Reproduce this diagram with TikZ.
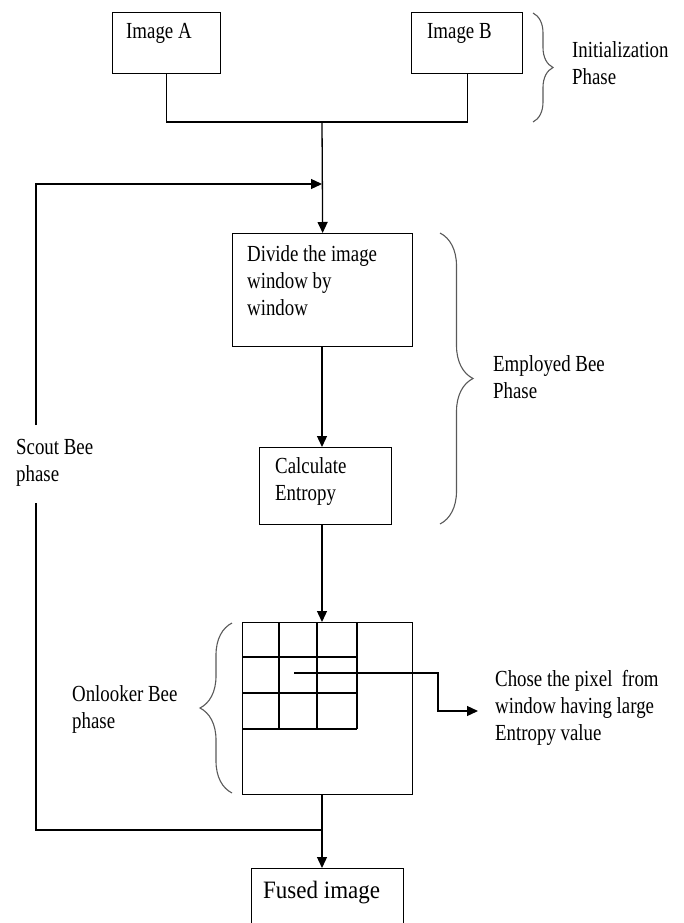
\documentclass[tikz,border=0pt]{standalone}
\usepackage{fontspec}
\setmainfont{Liberation Serif}[FakeStretch=0.82]
\newfontfamily\fusedfont{Liberation Serif}[FakeStretch=0.92]
\usetikzlibrary{arrows.meta, decorations.pathreplacing}

\begin{document}
\begin{tikzpicture}[
    x=1pt, y=-1pt,
    box/.style={rectangle, draw, line width=1.3pt, inner sep=0pt, anchor=north west},
    txt/.style={font=\fontsize{23}{27}\selectfont, align=left, inner sep=0pt, anchor=base west},
    wire/.style={draw, line width=1.3pt},
    line/.style={draw, line width=1.3pt, -{Triangle[length=11pt, width=10pt]}},
    phasebrace/.style={decorate, decoration={brace, amplitude=#1}, draw=black!65, line width=1.1pt}
]
    \useasboundingbox (0,0) rectangle (683,923);

    % Nodes
    \node [box, minimum width=108pt, minimum height=61pt] (imgA) at (112,12) {};
    \node [box, minimum width=111pt, minimum height=61pt] (imgB) at (411,12) {};
    \node [box, minimum width=180pt, minimum height=113pt] (divide) at (232,233) {};
    \node [box, minimum width=132pt, minimum height=77pt] (calc) at (259,447) {};
    \node [box, minimum width=170pt, minimum height=172pt] (grid) at (242,622) {};
    \node [box, minimum width=152pt, minimum height=90pt] (fused) at (251,868) {};

    % text (base west = baseline of the last line)
    \node [txt] (imgAtxt) at (126,39) {Image A};
    \node [txt] (imgBtxt) at (427,39) {Image B};
    \node [txt] (dividetxt) at (247,315) {Divide the image\\window by\\window};
    \node [txt] (calctxt) at (275,500) {Calculate\\Entropy};
    \node [txt, font=\fusedfont\fontsize{25}{29}\selectfont] (fusedtxt) at (263,898) {Fused image};

    \node [txt] (init) at (572,85) {Initialization\\Phase};
    \node [txt] (employed) at (493,398) {Employed Bee\\Phase};
    \node [txt] (onlooker) at (72,728) {Onlooker Bee\\phase};
    \node [txt] (scout) at (16,481) {Scout Bee\\phase};
    \node [txt] (chose) at (495,740) {Chose the pixel\ \ from\\window having large\\Entropy value};

    % window cells
    \foreach \x in {279,317,357}
        \draw [wire] (\x,622) -- (\x,729);
    \foreach \y in {657,693,729}
        \draw [wire] (242,\y) -- (357,\y);

    % Braces
    \draw [phasebrace=20] (533,13) -- (533,122);
    \draw [phasebrace=33] (440,233) -- (440,524);
    \draw [phasebrace=32] (232,793) -- (232,623);

    % Edges
    \coordinate (spine) at (322,122);
    \coordinate (scin) at (322,184);
    \coordinate (loop) at (322,830);
    \coordinate (sclow) at (36,503);
    \coordinate (schigh) at (36,425);
    \coordinate (pick) at (294,673);
    \coordinate (bend) at (438,711);
    \coordinate (tip) at (478,711);

    \path [wire] (imgA.south) |- (spine) -| (imgB.south);
    \path [line] (spine) -- (divide.north);
    \path [line] (spine |- divide.south) -- (spine |- calc.north);
    \path [line] (spine |- calc.south) -- (spine |- grid.north);
    \path [line] (spine |- grid.south) -- (spine |- fused.north);
    \path [wire] (loop) -| (sclow);
    \path [line] (schigh) |- (scin);
    \path [line] (pick) -| (bend) -- (tip);
\end{tikzpicture}
\end{document}
